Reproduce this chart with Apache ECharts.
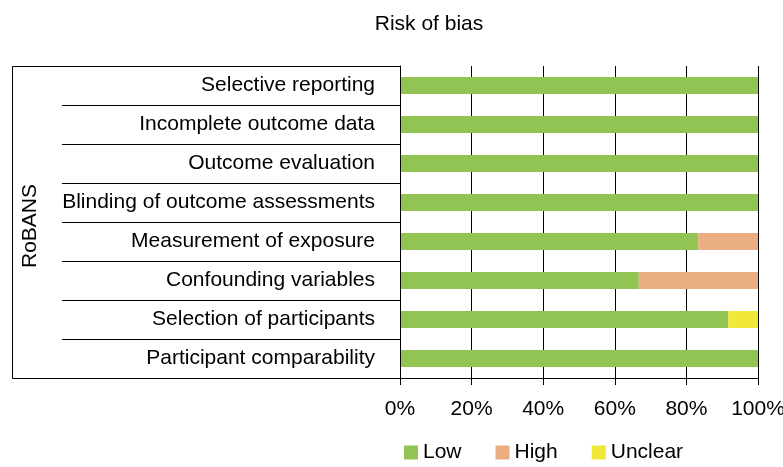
<!DOCTYPE html>
<html><head><meta charset="utf-8">
<script src="https://cdn.jsdelivr.net/npm/echarts@6/dist/echarts.min.js"></script>
<style>html,body{margin:0;padding:0;background:#fff}#c{width:783px;height:467px}</style>
</head><body><div id="c"></div>
<script>
const categories = ["Selective reporting","Incomplete outcome data","Outcome evaluation","Blinding of outcome assessments","Measurement of exposure","Confounding variables","Selection of participants","Participant comparability"];
const lowValues = [100,100,100,100,83.3,66.7,91.7,100];
const highValues = [0,0,0,0,16.7,33.3,0,0];
const unclearValues = [0,0,0,0,0,0,8.3,0];
const xTicks = [0,20,40,60,80,100];
const FONT = "Liberation Sans, Arial, sans-serif";
const FS = 21;

const chart = echarts.init(document.getElementById('c'));
chart.setOption({
  animation:false,
  textStyle:{fontFamily:FONT,color:'#000'},
  title:{text:'Risk of bias',left:424,top:9,textAlign:'center',textStyle:{fontFamily:FONT,fontSize:FS,fontWeight:'normal',color:'#000'}},
  legend:{left:399,top:437,itemWidth:14,itemHeight:14,itemGap:34,icon:'rect',
    textStyle:{fontFamily:FONT,fontSize:FS,color:'#000'},
    data:['Low','High','Unclear']},
  grid:{left:400,right:25,top:66,bottom:89,containLabel:false,outerBoundsMode:'none'},
  xAxis:{type:'value',min:xTicks[0],max:xTicks[xTicks.length-1],interval:20,
    axisLine:{show:true,lineStyle:{color:'#000',width:1}},
    axisTick:{show:true,length:7,lineStyle:{color:'#000'}},
    axisLabel:{formatter:'{value}%',fontFamily:FONT,fontSize:FS,color:'#000',margin:21},
    splitLine:{show:true,lineStyle:{color:'#000',width:1}}},
  yAxis:{type:'category',data:categories,inverse:true,
    name:'RoBANS',nameLocation:'middle',nameRotate:90,nameGap:359,
    nameTextStyle:{fontFamily:FONT,fontSize:FS,color:'#000',padding:[0,8,0,0]},
    axisLine:{show:true,lineStyle:{color:'#000',width:1}},
    axisTick:{show:true,length:338,lineStyle:{color:'#000',width:1}},
    axisLabel:{fontFamily:FONT,fontSize:FS,color:'#000',margin:25},
    splitLine:{show:false}},
  graphic:[{type:'rect',shape:{x:12.5,y:66.5,width:388,height:312},style:{fill:'none',stroke:'#000',lineWidth:1},z:10}],
  series:[
    {name:'Low',type:'bar',stack:'a',data:lowValues,barWidth:17,itemStyle:{color:'#92C454'}},
    {name:'High',type:'bar',stack:'a',data:highValues,barWidth:17,itemStyle:{color:'#EBAD82'}},
    {name:'Unclear',type:'bar',stack:'a',data:unclearValues,barWidth:17,itemStyle:{color:'#EFE838'}}
  ]
});
</script></body></html>
